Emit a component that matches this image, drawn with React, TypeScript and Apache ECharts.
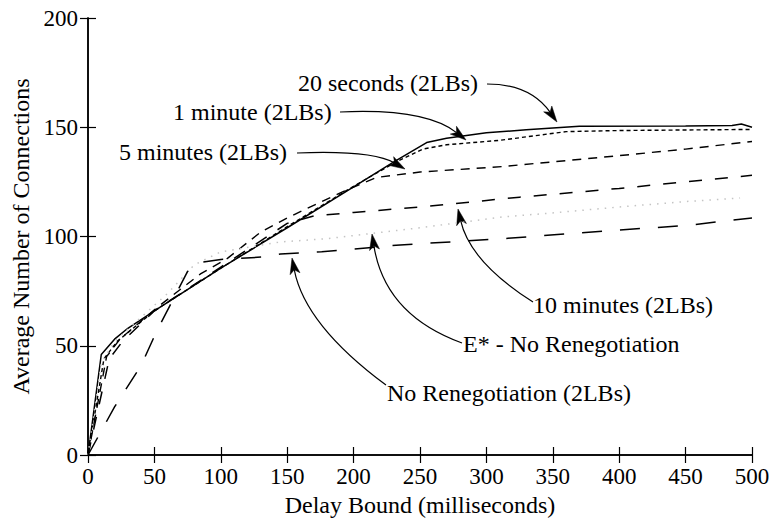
import React, { useEffect, useRef } from "react";
import * as echarts from "echarts";

const FONT = "Liberation Serif, DejaVu Serif, Times New Roman, serif";

// x: delay bound (ms), y: average number of connections
const twentySeconds: [number, number][] = [
  [0, 0], [10, 46], [20, 53], [30, 58], [50, 66], [100, 85.5], [150, 104], [200, 122.7],
  [230, 134], [255, 143], [270, 145], [300, 147.5], [330, 148.8], [370, 150.5],
  [450, 150.6], [485, 150.8], [492, 151.5], [500, 150],
];
const oneMinute: [number, number][] = [
  [0, 0], [12, 44], [22, 52], [50, 66], [100, 85.5], [150, 104.5], [200, 123], [230, 133.5],
  [252, 140], [270, 142], [310, 144], [360, 148], [400, 148.5], [500, 149],
];
const fiveMinutes: [number, number][] = [
  [0, 0], [14, 45], [24, 53], [50, 66.5], [70, 76], [85, 83], [105, 90], [130, 102],
  [150, 108.5], [190, 120], [217, 127], [250, 129.5], [312, 132], [400, 137], [450, 140], [500, 143.5],
];
const tenMinutes: [number, number][] = [
  [0, 0], [16, 44], [26, 52], [50, 66], [100, 86], [140, 102], [150, 106], [170, 109.4],
  [200, 111], [250, 113.5], [300, 116.5], [325, 118], [400, 122], [450, 125], [500, 128],
];
const eStarNoReneg: [number, number][] = [
  [0, 0], [10, 42], [20, 52], [40, 63], [60, 74], [80, 87], [100, 93], [145, 97.5],
  [180, 99], [250, 104], [313, 109], [348, 110.7], [400, 113.5], [450, 116], [491, 117.6],
];
const noReneg: [number, number][] = [
  [0, 0], [20, 22], [40, 41], [52, 57], [75, 84], [83, 88], [100, 89.5], [131, 90.6],
  [145, 92], [176, 93], [232, 96], [312, 99], [400, 103], [450, 105], [500, 108.5],
];

const xMin = 0, xMax = 500, xStep = 50;
const yMin = 0, yMax = 200, yStep = 50;

// annotation layout (pixels)
const annotations = [
  { text: "20 seconds (2LBs)", tx: 298, ty: 83, from: [487, 84], ctrl: [530, 84], tip: [557, 122] },
  { text: "1 minute (2LBs)", tx: 173, ty: 112, from: [340, 112], ctrl: [425, 108], tip: [466, 140] },
  { text: "5 minutes (2LBs)", tx: 119, ty: 152, from: [297, 153], ctrl: [372, 150], tip: [405, 169] },
  { text: "10 minutes (2LBs)", tx: 533, ty: 305, from: [533, 302], ctrl: [470, 262], tip: [458, 209] },
  { text: "E* - No Renegotiation", tx: 463, ty: 344, from: [462, 343], ctrl: [385, 315], tip: [372, 234] },
  { text: "No Renegotiation (2LBs)", tx: 387, ty: 393, from: [386, 385], ctrl: [305, 325], tip: [292, 258] },
];

function buildGraphic() {
  const els: any[] = [];
  annotations.forEach((a) => {
    els.push({
      type: "text",
      x: a.tx,
      y: a.ty,
      style: { text: a.text, font: "24px " + FONT, fill: "#000", align: "left", verticalAlign: "middle" },
    });
    const dx = a.tip[0] - a.ctrl[0];
    const dy = a.tip[1] - a.ctrl[1];
    const len = Math.sqrt(dx * dx + dy * dy) || 1;
    const ux = dx / len, uy = dy / len;
    const L = 16, W = 5;
    const bx = a.tip[0] - ux * L, by = a.tip[1] - uy * L;
    els.push({
      type: "bezierCurve",
      shape: { x1: a.from[0], y1: a.from[1], cpx1: a.ctrl[0], cpy1: a.ctrl[1], x2: bx + ux * 4, y2: by + uy * 4 },
      style: { stroke: "#000", lineWidth: 1.2, fill: "none" },
    });
    els.push({
      type: "polygon",
      shape: { points: [[a.tip[0], a.tip[1]], [bx - uy * W, by + ux * W], [bx + ux * 4, by + uy * 4], [bx + uy * W, by - ux * W]] },
      style: { fill: "#000", stroke: "#000", lineWidth: 0.5 },
    });
  });
  return els;
}

const axisLine = { show: true, lineStyle: { color: "#000", width: 1.5 } };
const axisTick = { show: true, inside: true, length: 8, lineStyle: { color: "#000", width: 1.2 } };

function lineSeries(name: string, data: [number, number][], style: any) {
  return {
    name,
    type: "line",
    data,
    showSymbol: false,
    symbol: "none",
    smooth: false,
    lineStyle: style,
    z: 3,
  };
}

export default function App() {
  const ref = useRef<HTMLDivElement>(null);
  useEffect(() => {
    const chart = echarts.init(ref.current!, null, { renderer: "svg" });
    chart.setOption({
      animation: false,
      backgroundColor: "#fff",
      textStyle: { fontFamily: FONT },
      grid: { left: 88, right: 22, top: 18, bottom: 72 },
      xAxis: [
        {
          type: "value", min: xMin, max: xMax, interval: xStep, position: "bottom",
          axisLine, axisTick, splitLine: { show: false },
          axisLabel: { color: "#000", fontSize: 23, fontFamily: FONT, margin: 10 },
          name: "Delay Bound (milliseconds)", nameLocation: "middle", nameGap: 38,
          nameTextStyle: { color: "#000", fontSize: 24, fontFamily: FONT },
        },
        {
          type: "value", min: xMin, max: xMax, interval: xStep, position: "top",
          axisLine, axisTick, splitLine: { show: false }, axisLabel: { show: false },
        },
      ],
      yAxis: [
        {
          type: "value", min: yMin, max: yMax, interval: yStep, position: "left",
          axisLine, axisTick, splitLine: { show: false },
          axisLabel: { color: "#000", fontSize: 23, fontFamily: FONT, margin: 10 },
          name: "Average Number of Connections", nameLocation: "middle", nameGap: 52,
          nameTextStyle: { color: "#000", fontSize: 24, fontFamily: FONT },
        },
        {
          type: "value", min: yMin, max: yMax, interval: yStep, position: "right",
          axisLine, axisTick, splitLine: { show: false }, axisLabel: { show: false },
        },
      ],
      series: [
        lineSeries("20 seconds (2LBs)", twentySeconds, { color: "#000", width: 1.5, type: "solid" }),
        lineSeries("1 minute (2LBs)", oneMinute, { color: "#000", width: 1.4, type: [4, 3] }),
        lineSeries("5 minutes (2LBs)", fiveMinutes, { color: "#000", width: 1.4, type: [9, 7] }),
        lineSeries("10 minutes (2LBs)", tenMinutes, { color: "#000", width: 1.5, type: [13, 13] }),
        lineSeries("E* - No Renegotiation", eStarNoReneg, { color: "#c4c4c4", width: 1.5, type: [1.5, 6] }),
        lineSeries("No Renegotiation (2LBs)", noReneg, { color: "#000", width: 1.5, type: [20, 18] }),
      ],
      graphic: buildGraphic(),
    });
    return () => chart.dispose();
  }, []);
  return <div ref={ref} style={{ position: "fixed", left: 0, top: 0, width: 774, height: 527 }} />;
}
